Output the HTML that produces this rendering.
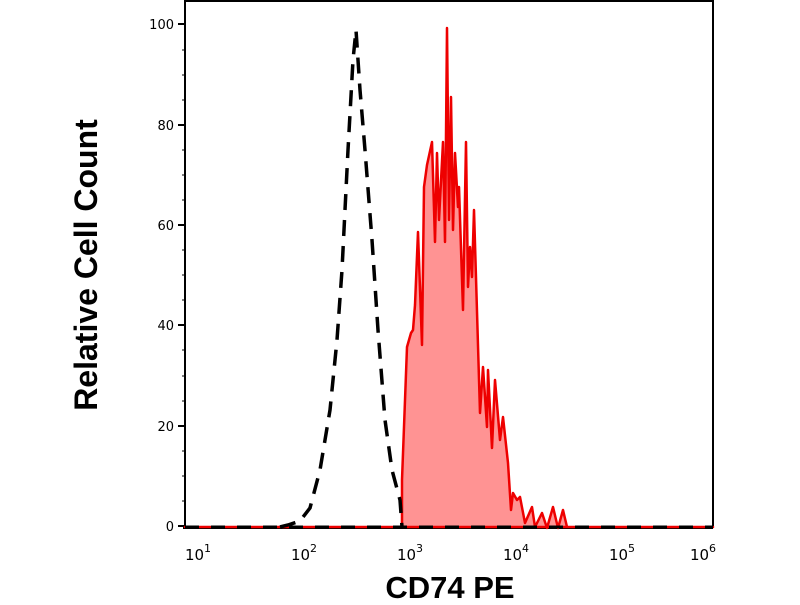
<!DOCTYPE html>
<html><head><style>body{margin:0;background:#fff}</style></head><body>
<svg width="800" height="600" xmlns="http://www.w3.org/2000/svg">
<rect width="800" height="600" fill="#fff"/>
<g font-family="DejaVu Sans, Liberation Sans, sans-serif" font-size="13" fill="#000">
<g stroke="#000" stroke-width="2">
<line x1="185" y1="0" x2="185" y2="528"/>
<line x1="185" y1="1" x2="713" y2="1"/>
<line x1="713" y1="0" x2="713" y2="528"/>
<line x1="183" y1="528" x2="713" y2="528"/>
</g>
<g stroke="#000" stroke-width="2">
<line x1="178" y1="526" x2="185" y2="526"/><line x1="178" y1="426" x2="185" y2="426"/>
<line x1="178" y1="325" x2="185" y2="325"/><line x1="178" y1="225" x2="185" y2="225"/>
<line x1="178" y1="125" x2="185" y2="125"/><line x1="178" y1="24" x2="185" y2="24"/>
</g>
<g stroke="#000" stroke-width="1">
<line x1="182" y1="501" x2="185" y2="501"/><line x1="182" y1="476" x2="185" y2="476"/><line x1="182" y1="451" x2="185" y2="451"/>
<line x1="182" y1="401" x2="185" y2="401"/><line x1="182" y1="376" x2="185" y2="376"/><line x1="182" y1="350" x2="185" y2="350"/>
<line x1="182" y1="300" x2="185" y2="300"/><line x1="182" y1="275" x2="185" y2="275"/><line x1="182" y1="250" x2="185" y2="250"/>
<line x1="182" y1="200" x2="185" y2="200"/><line x1="182" y1="175" x2="185" y2="175"/><line x1="182" y1="150" x2="185" y2="150"/>
<line x1="182" y1="100" x2="185" y2="100"/><line x1="182" y1="75" x2="185" y2="75"/><line x1="182" y1="50" x2="185" y2="50"/>
</g>
<g text-anchor="end">
<text x="174" y="531">0</text><text x="174" y="431">20</text><text x="174" y="330">40</text>
<text x="174" y="230">60</text><text x="174" y="130">80</text><text x="174" y="29">100</text>
</g>
<g id="xt" stroke="#000"></g>
<g text-anchor="middle" font-size="15">
<text x="198" y="560">10<tspan font-size="11" dy="-8">1</tspan></text>
<text x="304" y="560">10<tspan font-size="11" dy="-8">2</tspan></text>
<text x="410" y="560">10<tspan font-size="11" dy="-8">3</tspan></text>
<text x="516" y="560">10<tspan font-size="11" dy="-8">4</tspan></text>
<text x="622" y="560">10<tspan font-size="11" dy="-8">5</tspan></text>
<text x="703" y="560">10<tspan font-size="11" dy="-8">6</tspan></text>
</g>
</g>
<polygon fill="#ff9393" stroke="#ee0000" stroke-width="2.5" stroke-linejoin="round" points="185,527 402,527 402,480 407,347 411,333 413,330 415,305 418,232 422,345 424,187 427,165 432,142 435,242 437,153 439,220 443,142 445,242 447,28 449,220 451,97 453,230 455,153 458,207 459,187 463,310 466,142 468,287 470,247 472,277 474,210 480,413 483,367 487,427 488,370 492,448 495,380 500,440 503,417 508,463 511,510 513,493 517,500 520,497 525,523 532,507 535,527 542,513 547,528 553,507 558,528 563,510 567,527 713,527"/>
<line x1="185" y1="527" x2="713" y2="527" stroke="#000" stroke-width="3" stroke-dasharray="14,12"/>
<polyline fill="none" stroke="#000" stroke-width="3.5" stroke-dasharray="16,10" points="280,527 288,525 300,521 310,508 320,470 325,440 330,410 337,340 342,270 348,150 353,60 356,30 360,90 365,150 372,240 378,330 385,420 392,470 400,500 402,527"/>
<text x="97" y="265" transform="rotate(-90 97 265)" text-anchor="middle" font-family="Liberation Sans, sans-serif" font-weight="bold" font-size="32">Relative Cell Count</text>
<text x="450" y="598" text-anchor="middle" font-family="Liberation Sans, sans-serif" font-weight="bold" font-size="31">CD74 PE</text>
<script>
var g=document.getElementById('xt'),s='';
for(var d=1;d<=6;d++){var x=395+106*(d-3);s+='<line x1="'+x+'" y1="528" x2="'+x+'" y2="536" stroke-width="2"/>';
if(d<6)for(var k=2;k<10;k++){var xx=x+106*Math.log10(k);s+='<line x1="'+xx+'" y1="528" x2="'+xx+'" y2="532" stroke-width="1"/>';}}
g.innerHTML=s;
</script>
</svg>
</body></html>
